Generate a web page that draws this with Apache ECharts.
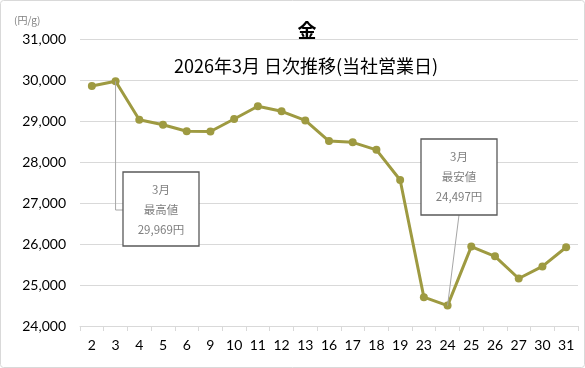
<!DOCTYPE html>
<html><head><meta charset="utf-8">
<script src="https://cdn.jsdelivr.net/npm/echarts@6/dist/echarts.min.js"></script>
<style>html,body{margin:0;padding:0;background:#fff}#c{width:585px;height:368px}</style>
</head><body><div id="c"></div>
<script>
const days = ['2','3','4','5','6','9','10','11','12','13','16','17','18','19','23','24','25','26','27','30','31'];
const prices = [29852,29969,29032,28909,28750,28744,29049,29360,29237,29015,28512,28480,28297,27560,24704,24497,25936,25700,25158,25453,25921];
const yMin = 24000, yMax = 31000, yStep = 1000;
const titleText = '金';
const subtitleText = '2026年3月 日次推移(当社営業日)';
const unitText = '(円/g)';
const highIdx = 1, lowIdx = 15;
const highLabel = ['3月','最高値','29,969円'];
const lowLabel = ['3月','最安値','24,497円'];

const FONT = 'Lato, "Noto Sans CJK JP", sans-serif';
const chart = echarts.init(document.getElementById('c'), null, {renderer:'canvas'});
const option = {
  animation:false,
  backgroundColor:'#fff',
  title:[
    {text:titleText,left:302,top:16,textAlign:'center',textStyle:{fontFamily:'"Noto Sans CJK JP"',fontSize:19,fontWeight:'bold',color:'#000'}},
    {text:subtitleText,left:301,top:52,textAlign:'center',textStyle:{fontFamily:'"Noto Sans CJK JP"',fontSize:18,fontWeight:'normal',color:'#000'}}
  ],
  grid:{left:80,right:7,top:39,bottom:42,containLabel:false},
  xAxis:{type:'category',data:days,boundaryGap:true,
    axisLine:{show:true,lineStyle:{color:'#d9d9d9',width:1}},
    axisTick:{show:true,length:5,lineStyle:{color:'#d9d9d9'}},
    axisLabel:{fontFamily:FONT,fontSize:14,color:'#000',margin:12,interval:0}},
  yAxis:{type:'value',min:yMin,max:yMax,interval:yStep,
    axisLine:{show:false},axisTick:{show:false},
    splitLine:{lineStyle:{color:'#d9d9d9',width:1}},
    axisLabel:{fontFamily:FONT,fontSize:14,color:'#000',margin:14,
      formatter:v=>v.toLocaleString('en-US')}},
  series:[{type:'line',data:prices,symbol:'circle',symbolSize:8,
    lineStyle:{color:'#9e9a41',width:3},itemStyle:{color:'#9e9a41'},z:3}]
};
chart.setOption(option);

const pH = chart.convertToPixel({seriesIndex:0},[highIdx,prices[highIdx]]);
const pL = chart.convertToPixel({seriesIndex:0},[lowIdx,prices[lowIdx]]);
function box(x,y,w,h,lines){
  const els=[{type:'rect',shape:{x:x,y:y,width:w,height:h},style:{fill:'#fff',stroke:'#595959',lineWidth:1.3},z:10}];
  lines.forEach((t,i)=>els.push({type:'text',x:x+w/2,y:y+18+i*20,z:11,
    style:{text:t,fill:'#7f7f7f',font:'11.5px "Noto Sans CJK JP"',textAlign:'center',textVerticalAlign:'middle'}}));
  return els;
}
const g = [
  {type:'rect',shape:{x:0.5,y:0.5,width:584,height:367,r:3},style:{fill:null,stroke:'#d9d9d9',lineWidth:1},z:0},
  {type:'text',x:14,y:20,style:{text:unitText,fill:'#7f7f7f',font:'10px "Noto Sans CJK JP"',textVerticalAlign:'middle'}},
  {type:'polyline',shape:{points:[[pH[0],pH[1]],[pH[0],210],[123,210]]},style:{stroke:'#a6a6a6',lineWidth:1,fill:null},z:9},
  ...box(123,172,76,74,highLabel),
  {type:'line',shape:{x1:459,y1:215,x2:pL[0],y2:pL[1]},style:{stroke:'#a6a6a6',lineWidth:1},z:9},
  ...box(421,139,76,76,lowLabel)
];
chart.setOption({graphic:g});
</script></body></html>
